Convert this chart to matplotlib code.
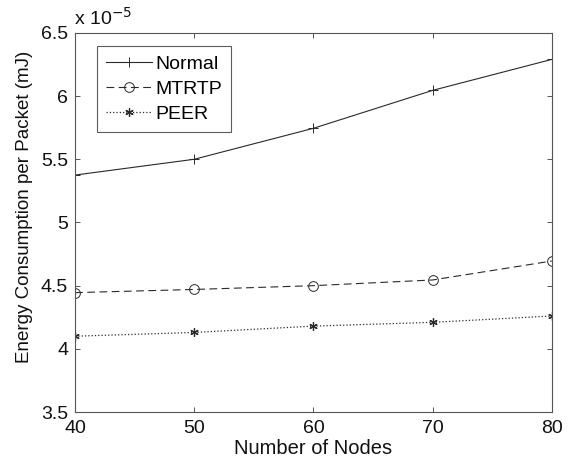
import matplotlib
matplotlib.use("Agg")
import matplotlib.pyplot as plt

plt.rcParams['font.family'] = ['Liberation Sans', 'DejaVu Sans']

nodes = [40, 50, 60, 70, 80]
normal = [5.375, 5.50, 5.745, 6.045, 6.29]   # x 1e-5
mtrtp = [4.445, 4.47, 4.50, 4.545, 4.695]
peer = [4.10, 4.13, 4.18, 4.21, 4.26]
xticks = [40, 50, 60, 70, 80]
yticks = [3.5, 4, 4.5, 5, 5.5, 6, 6.5]
ytick_labels = ['3.5', '4', '4.5', '5', '5.5', '6', '6.5']

fig = plt.figure(figsize=(5.7, 4.63), dpi=100)
ax = fig.add_axes([0.1316, 0.110, 0.8364, 0.819])

c = '#2a2a2a'
ax.plot(nodes, normal, '-', color=c, lw=0.8, marker='+', ms=7, mew=0.7, label='Normal')
ax.plot(nodes, mtrtp, '--', color=c, lw=0.8, marker='o', ms=7, mfc='none', mew=0.7,
        dashes=(7, 4), label='MTRTP')
ax.plot(nodes, peer, ':', color=c, lw=0.9, marker=(6, 2, 0), ms=6, mew=0.9, label='PEER')

ax.set_xlim(40, 80)
ax.set_ylim(3.5, 6.5)
ax.set_xticks(xticks)
ax.set_yticks(yticks)
ax.set_yticklabels(ytick_labels)
ax.tick_params(direction='in', top=True, right=True, labelsize=14, length=3.5, width=0.7,
               colors='#555555', labelcolor='#111111')
ax.tick_params(axis='x', pad=6)
ax.tick_params(axis='y', pad=5)
for s in ax.spines.values():
    s.set_linewidth(0.8)
    s.set_color('#555555')

ax.set_xlabel('Number of Nodes', fontsize=14.5, labelpad=1.5, color='#111111')
ax.set_ylabel('Energy Consumption per Packet (mJ)', fontsize=13.5, color='#111111')
ax.yaxis.set_label_coords(-0.089, 0.541)
ax.text(-0.002, 1.012, r'x 10$^{-5}$', transform=ax.transAxes, fontsize=14, ha='left', va='bottom',
        color='#111111')

leg = ax.legend(loc='upper left', bbox_to_anchor=(0.046, 0.965), fontsize=14, frameon=True,
                fancybox=False, edgecolor='#333333', handlelength=2.4, handletextpad=0.15,
                borderpad=0.45, labelspacing=0.4, borderaxespad=0)
leg.get_frame().set_linewidth(0.8)

fig.savefig('out.png', dpi=100)
